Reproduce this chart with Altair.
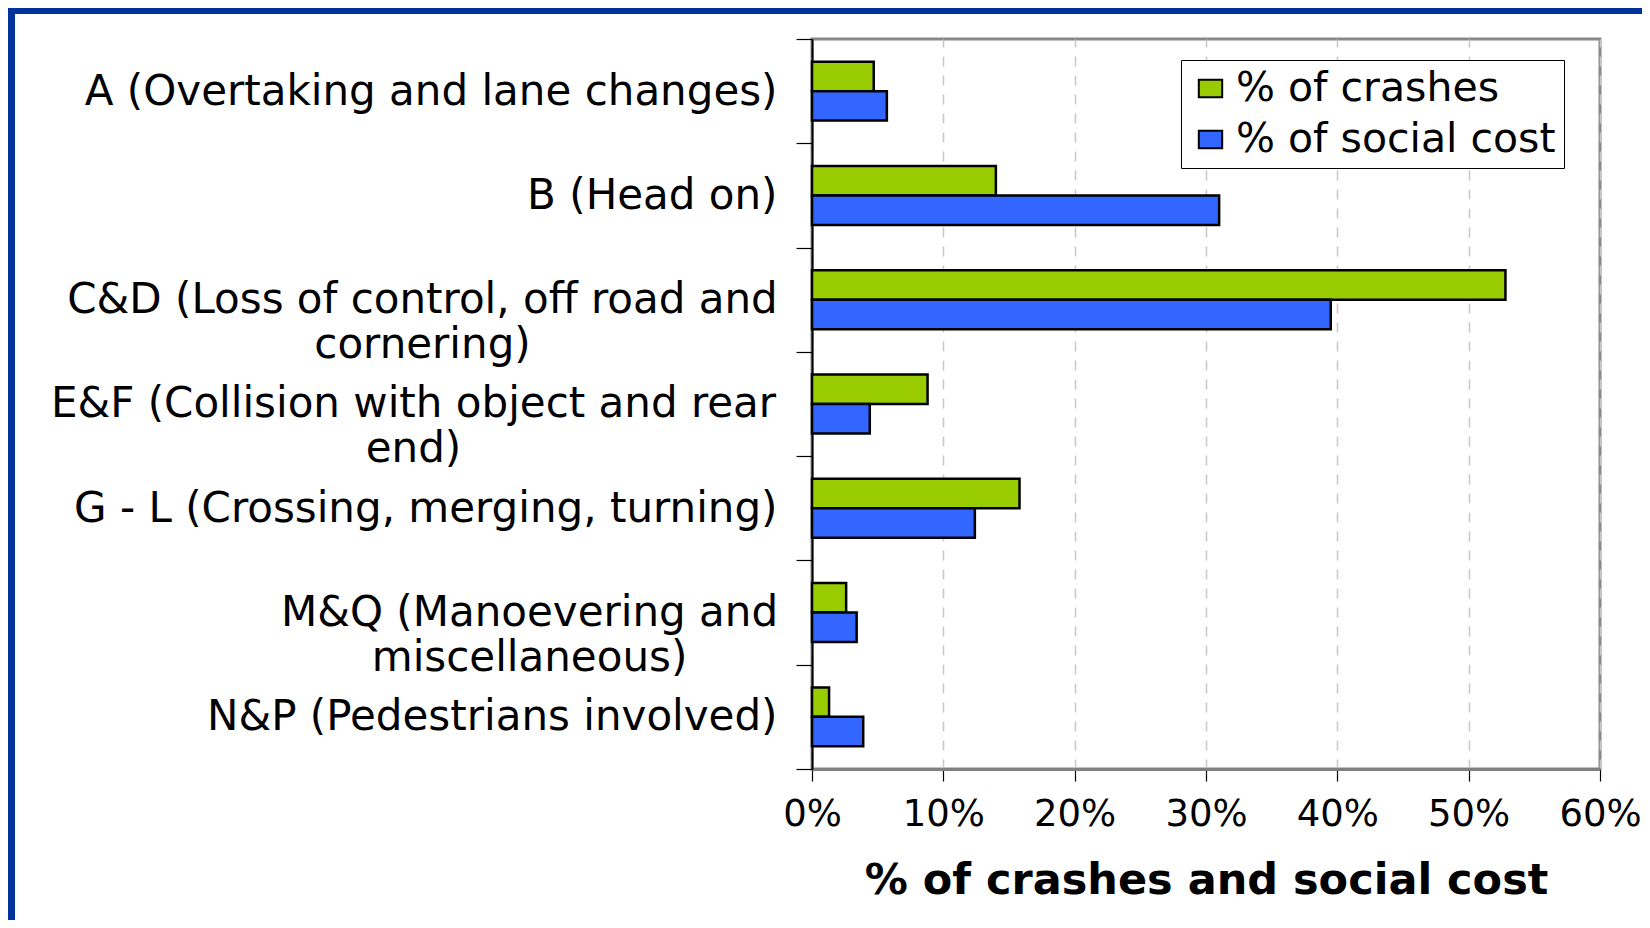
import altair as alt
import pandas as pd

# ---- data ----
categories = [
    "A (Overtaking and lane changes)",
    "B (Head on)",
    "C&D (Loss of control, off road and|cornering)",
    "E&F (Collision with object and rear|end)",
    "G - L (Crossing, merging, turning)",
    "M&Q (Manoevering and|miscellaneous)",
    "N&P (Pedestrians involved)",
]
pct_crashes = [4.7, 14.0, 52.8, 8.8, 15.8, 2.6, 1.3]
pct_social_cost = [5.7, 31.0, 39.5, 4.4, 12.4, 3.4, 3.9]
series_names = ["% of crashes", "% of social cost"]
series_colors = ["#99CC00", "#3366FF"]
x_ticks = [0, 0.1, 0.2, 0.3, 0.4, 0.5, 0.6]
x_title = "% of crashes and social cost"

rows = []
for lab, a, b in zip(categories, pct_crashes, pct_social_cost):
    rows.append({"category": lab, "series": series_names[0], "value": a / 100})
    rows.append({"category": lab, "series": series_names[1], "value": b / 100})
df = pd.DataFrame(rows)

FONT = "DejaVu Sans"
LABEL_SIZE = 42

y_scale = alt.Scale(paddingInner=0, paddingOuter=0)
x_scale = alt.Scale(domain=[0, 0.6], nice=False, zero=True)

label_style = dict(
    labelFont=FONT,
    labelFontSize=LABEL_SIZE,
    labelLineHeight=45,
    labelColor="black",
    labelLimit=900,
    title=None,
    orient="left",
    grid=False,
)

# main axis: single-line labels, right aligned next to the ticks
main_y_axis = alt.Axis(
    labelExpr="indexof(datum.label, '|') >= 0 ? '' : datum.label",
    labelAlign="right",
    labelPadding=19,
    tickSize=16,
    tickColor="black",
    tickWidth=1.2,
    tickBand="extent",
    domainColor="black",
    domainWidth=2,
    **label_style,
)


def centred_axis(prefix, padding):
    return alt.Axis(
        labelExpr=f"indexof(datum.label, '{prefix}') == 0 ? split(datum.label, '|') : ''",
        labelAlign="center",
        labelPadding=padding,
        ticks=False,
        domain=False,
        **label_style,
    )


bars = alt.Chart(df).mark_bar(stroke="black", strokeWidth=2.5).encode(
    y=alt.Y("category:N", sort=categories, scale=y_scale, axis=main_y_axis),
    yOffset=alt.YOffset(
        "series:N",
        sort=series_names,
        scale=alt.Scale(paddingInner=0, paddingOuter=0.77),
    ),
    x=alt.X(
        "value:Q",
        scale=x_scale,
        axis=alt.Axis(
            title=x_title,
            titleFont=FONT,
            titleFontSize=43,
            titleFontWeight="bold",
            titleColor="black",
            titlePadding=27,
            format=".0%",
            values=x_ticks,
            labelFont=FONT,
            labelFontSize=37,
            labelColor="black",
            labelPadding=15,
            labelFlush=False,
            tickSize=12,
            tickColor="black",
            tickWidth=1.2,
            domainColor="#808080",
            domainWidth=3,
            grid=True,
            gridColor="#c8c8c8",
            gridWidth=1.5,
            gridDash=[10, 9],
        ),
    ),
    color=alt.Color(
        "series:N",
        sort=series_names,
        scale=alt.Scale(domain=series_names, range=series_colors),
        legend=alt.Legend(
            title=None,
            orient="none",
            legendX=369,
            legendY=21,
            labelFont=FONT,
            labelFontSize=41,
            labelColor="black",
            labelOffset=5,
            labelLimit=600,
            symbolType="M-1.35,-1H1.35V1H-1.35Z",
            symbolSize=300,
            symbolStrokeColor="black",
            symbolStrokeWidth=2,
            symbolOffset=1,
            rowPadding=9,
            padding=8,
            strokeColor="black",
            fillColor="white",
        ),
    ),
)


# invisible carriers for the two-line labels (centred line by line, as in the reference)
def wrapped_label_layer(prefix, padding):
    return alt.Chart(df).mark_bar(opacity=0).encode(
        y=alt.Y("category:N", sort=categories, scale=y_scale,
                axis=centred_axis(prefix, padding)),
        x=alt.X("value:Q", scale=x_scale, axis=None),
    )


wrap_cd = wrapped_label_layer("C&D", 390)
wrap_ef = wrapped_label_layer("E&F", 399)
wrap_mq = wrapped_label_layer("M&Q", 283)

frame_df = pd.DataFrame({"k": [0]})
frame_left = alt.Chart(frame_df).mark_rule(color="#003399", strokeWidth=7).encode(
    x=alt.value(-800.5), y=alt.value(-31), y2=alt.value(881)
)
frame_top = alt.Chart(frame_df).mark_rule(color="#003399", strokeWidth=6).encode(
    x=alt.value(-804), x2=alt.value(830), y=alt.value(-28)
)

chart = (
    alt.layer(bars, wrap_cd, wrap_ef, wrap_mq, frame_left, frame_top)
    .resolve_axis(y="independent", x="independent")
    .properties(
        width=788,
        height=730,
        padding={"left": 804, "top": 31, "right": 42, "bottom": 151},
        autosize=alt.AutoSizeParams(type="none"),
        background="white",
    )
    .configure_view(stroke="#888888", strokeWidth=3)
)

chart.save("out.html", embed_options={"renderer": "svg", "actions": False})
